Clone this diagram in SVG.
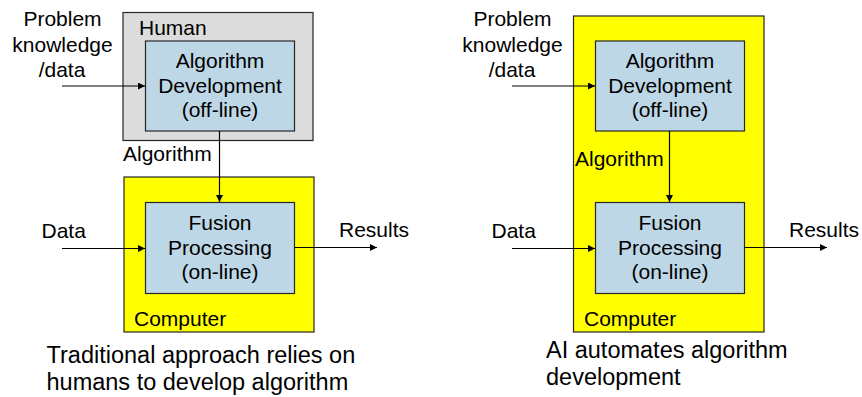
<svg xmlns="http://www.w3.org/2000/svg" width="862" height="397" viewBox="0 0 862 397">
<style>
text{font-family:"Liberation Sans",Arial,sans-serif;font-size:21px;fill:#000}
.c{text-anchor:middle}
.cap{font-size:23.5px}
.box{stroke:#262626;stroke-width:1.2}
.blue{fill:#bed7e6}
.yel{fill:#ffff00}
.gray{fill:#dcdcdc}
.ln{stroke:#000;stroke-width:1.2;fill:none;marker-end:url(#ah)}
</style>
<defs>
<marker id="ah" viewBox="0 0 10 10" refX="10" refY="5" markerWidth="8" markerHeight="7" markerUnits="userSpaceOnUse" orient="auto">
<path d="M0,0L10,5L0,10z" fill="#000"/>
</marker>
</defs>
<rect width="862" height="397" fill="#fff"/>

<g id="left-human">
<rect class="box gray" x="123" y="12.5" width="190" height="128"/>
<text x="139" y="35">Human</text>
</g>
<g id="left-computer">
<rect class="box yel" x="124" y="177" width="190" height="155"/>
<text x="134" y="326">Computer</text>
</g>
<g id="left-algdev">
<rect class="box blue" x="145.5" y="41" width="149" height="90"/>
<text class="c" x="220" y="68">Algorithm</text>
<text class="c" x="220" y="92.5">Development</text>
<text class="c" x="220" y="117">(off-line)</text>
</g>
<g id="left-fusion">
<rect class="box blue" x="145.5" y="202.5" width="149" height="91"/>
<text class="c" x="220" y="230">Fusion</text>
<text class="c" x="220" y="254.5">Processing</text>
<text class="c" x="220" y="279">(on-line)</text>
</g>
<g id="left-labels">
<text class="c" x="62.5" y="26">Problem</text>
<text class="c" x="62.5" y="51.5">knowledge</text>
<text class="c" x="62" y="77">/data</text>
<text x="123" y="161">Algorithm</text>
<text x="41.5" y="238">Data</text>
<text x="339" y="237">Results</text>
<text class="cap" x="46.5" y="363">Traditional approach relies on</text>
<text class="cap" x="46.5" y="390">humans to develop algorithm</text>
</g>

<g id="right-computer">
<rect class="box yel" x="573.5" y="16" width="190.5" height="316"/>
<text x="584" y="326">Computer</text>
</g>
<g id="right-algdev">
<rect class="box blue" x="595.5" y="41" width="149" height="90"/>
<text class="c" x="670" y="68">Algorithm</text>
<text class="c" x="670" y="92.5">Development</text>
<text class="c" x="670" y="117">(off-line)</text>
</g>
<g id="right-fusion">
<rect class="box blue" x="595.5" y="202.5" width="149" height="91"/>
<text class="c" x="670" y="230">Fusion</text>
<text class="c" x="670" y="254.5">Processing</text>
<text class="c" x="670" y="279">(on-line)</text>
</g>
<g id="right-labels">
<text class="c" x="512.5" y="26">Problem</text>
<text class="c" x="512.5" y="51.5">knowledge</text>
<text class="c" x="512" y="77">/data</text>
<text x="575" y="166">Algorithm</text>
<text x="491.5" y="238">Data</text>
<text x="789" y="237">Results</text>
<text class="cap" x="546" y="358">AI automates algorithm</text>
<text class="cap" x="546" y="385">development</text>
</g>

<g id="connectors">
<path class="ln" d="M62,86H145"/>
<path class="ln" d="M219.5,131V202"/>
<path class="ln" d="M62,248.5H145"/>
<path class="ln" d="M295,247.5H377"/>
<path class="ln" d="M512,86H595"/>
<path class="ln" d="M669.5,131V202"/>
<path class="ln" d="M512,248.5H595"/>
<path class="ln" d="M745,247.5H827"/>
</g>
</svg>
